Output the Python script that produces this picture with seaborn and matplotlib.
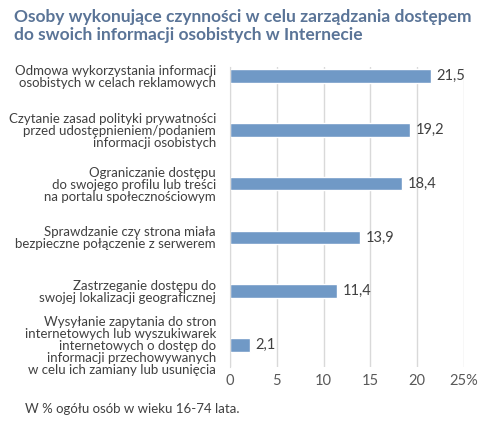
import seaborn as sns
import matplotlib.pyplot as plt

categories = [
    "Odmowa wykorzystania informacji\nosobistych w celach reklamowych",
    "Czytanie zasad polityki prywatności\nprzed udostępnieniem/podaniem\ninformacji osobistych",
    "Ograniczanie dostępu\ndo swojego profilu lub treści\nna portalu społecznościowym",
    "Sprawdzanie czy strona miała\nbezpieczne połączenie z serwerem",
    "Zastrzeganie dostępu do\nswojej lokalizacji geograficznej",
    "Wysyłanie zapytania do stron\ninternetowych lub wyszukiwarek\ninternetowych o dostęp do\ninformacji przechowywanych\nw celu ich zamiany lub usunięcia",
]
values = [21.5, 19.2, 18.4, 13.9, 11.4, 2.1]
xticks = [0, 5, 10, 15, 20, 25]
xtick_labels = ["0", "5", "10", "15", "20", "25%"]

sns.set_style("white")
plt.rcParams['font.family'] = ['Lato', 'DejaVu Sans']

fig = plt.figure(figsize=(5, 4.23), dpi=100)
ax = fig.add_axes([0.46, 0.1324, 0.468, 0.7092])

sns.barplot(x=values, y=categories, color="#7099C6", width=0.25, ax=ax,
            saturation=1, orient="h")

ax.set_xlim(0, 25)
ax.set_ylim(5.41, -0.17)
ax.set_xticks(xticks)
ax.set_xticklabels(xtick_labels)
ax.xaxis.grid(True, color="#D9D9D9", lw=1)
ax.set_axisbelow(True)
for s in ["top", "right", "bottom"]:
    ax.spines[s].set_visible(False)
ax.spines["left"].set_color("#D9D9D9")
ax.tick_params(axis="x", length=0, pad=5, labelsize=10.5, labelcolor="#595959")
ax.tick_params(axis="y", length=0, pad=10, labelsize=9.5, labelcolor="#404040")
for lab in ax.get_yticklabels():
    lab.set_linespacing(1.0)
ax.set_xlabel("")
ax.set_ylabel("")

ax.bar_label(ax.containers[0], labels=[f"{v:.1f}".replace(".", ",") for v in values],
             padding=4, fontsize=10.5, color="#404040")

fig.text(0.028, 0.978, "Osoby wykonujące czynności w celu zarządzania dostępem\ndo swoich informacji osobistych w Internecie",
         ha="left", va="top", fontsize=12.5, fontweight="bold", color="#5A7497", linespacing=1.1)
fig.text(0.05, 0.033, "W % ogółu osób w wieku 16-74 lata.", ha="left", va="center",
         fontsize=9.5, color="#404040")

fig.savefig("out.png", dpi=100)
